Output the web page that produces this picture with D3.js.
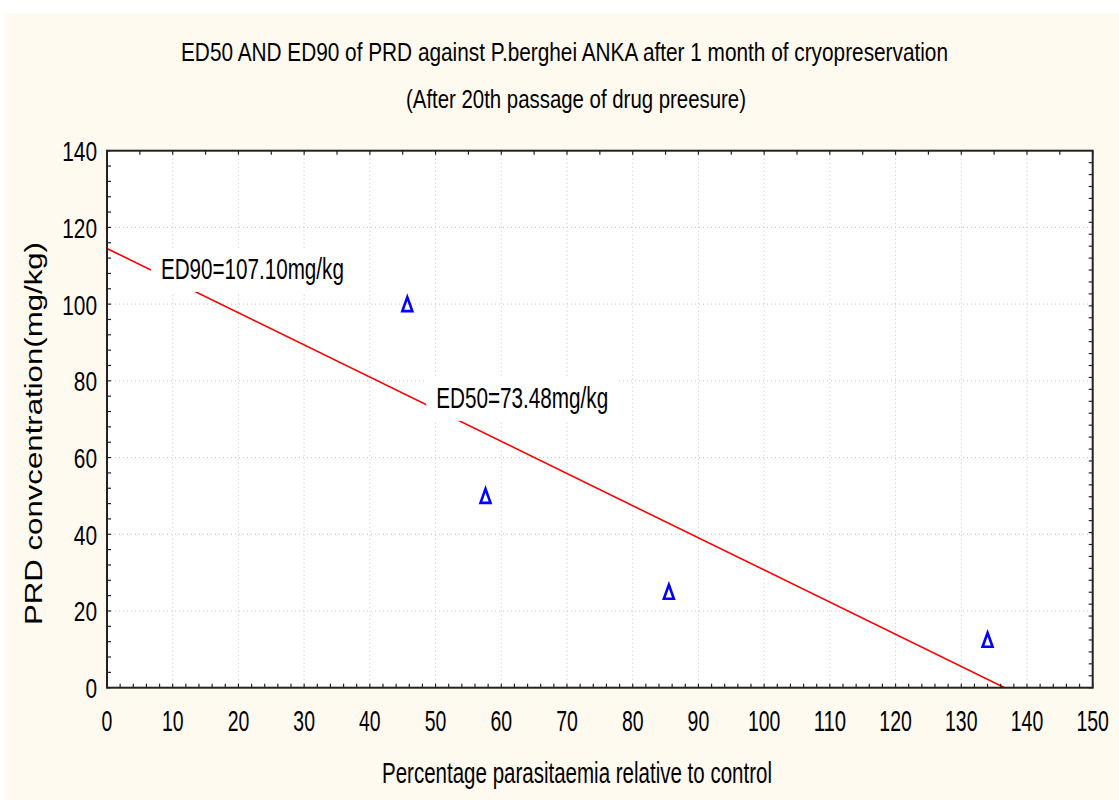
<!DOCTYPE html>
<html>
<head>
<meta charset="utf-8">
<script src="https://cdn.jsdelivr.net/npm/d3@7/dist/d3.min.js"></script>
<style>
  html, body { margin: 0; padding: 0; background: #ffffff; }
  svg { display: block; }
</style>
</head>
<body>
<svg id="chart" width="1119" height="800"></svg>
<script>
// ---------- data ----------
const titleLines = [
  "ED50 AND ED90 of PRD against P.berghei ANKA after 1 month of cryopreservation",
  "(After 20th passage of drug preesure)"
];
const xLabel = "Percentage parasitaemia relative to control";
const yLabel = "PRD convcentration(mg/kg)";
const xTicks = [0, 10, 20, 30, 40, 50, 60, 70, 80, 90, 100, 110, 120, 130, 140, 150];
const yTicks = [0, 20, 40, 60, 80, 100, 120, 140];
const pointX = [45.7, 57.6, 85.5, 134.0];   // % parasitaemia
const pointY = [100, 50, 25, 12.5];         // PRD mg/kg
const fitX = [0, 136.6];                    // regression line ends
const fitY = [114.5, 0];
const annotations = [
  { text: "ED90=107.10mg/kg", x: 8.2, y: 107.1 },
  { text: "ED50=73.48mg/kg", x: 50.1, y: 73.48 }
];

// ---------- layout ----------
const svg = d3.select("#chart");
const W = 1119, H = 800;
const plot = { left: 107, right: 1092.7, top: 150.7, bottom: 687.7 };
const FONT_N = "'Liberation Sans Narrow', 'Liberation Sans', Arial, sans-serif";
const FONT = "'Liberation Sans', Arial, sans-serif";

const x = d3.scaleLinear().domain([0, 150]).range([plot.left, plot.right]);
const y = d3.scaleLinear().domain([0, 140]).range([plot.bottom, plot.top]);

// page background
svg.append("rect").attr("x", 0).attr("y", 0).attr("width", W).attr("height", H).attr("fill", "#ffffff");
svg.append("rect").attr("x", 5).attr("y", 13).attr("width", W - 5).attr("height", H - 13).attr("fill", "#fffaf0");

// titles
const tl = [
  { t: titleLines[0], cx: 564.5, by: 61, len: 767, fs: 25 },
  { t: titleLines[1], cx: 576, by: 107.5, len: 340, fs: 25 }
];
tl.forEach(d => {
  svg.append("text").attr("x", d.cx).attr("y", d.by)
    .attr("text-anchor", "middle").attr("font-family", FONT_N).attr("font-size", d.fs)
    .attr("textLength", d.len).attr("lengthAdjust", "spacingAndGlyphs")
    .attr("fill", "#000").text(d.t);
});

// plot background
svg.append("rect").attr("x", plot.left).attr("y", plot.top)
  .attr("width", plot.right - plot.left).attr("height", plot.bottom - plot.top).attr("fill", "#ffffff");

// grid
const grid = svg.append("g").attr("stroke", "#c4c4c4").attr("stroke-width", 1).attr("stroke-dasharray", "1,3");
xTicks.filter(v => v > 0 && v < 150).forEach(v => {
  grid.append("line").attr("x1", x(v)).attr("x2", x(v)).attr("y1", plot.top).attr("y2", plot.bottom);
});
yTicks.filter(v => v > 0 && v < 140).forEach(v => {
  grid.append("line").attr("x1", plot.left).attr("x2", plot.right).attr("y1", y(v)).attr("y2", y(v));
});

// regression line (clipped)
svg.append("clipPath").attr("id", "clip").append("rect")
  .attr("x", plot.left).attr("y", plot.top).attr("width", plot.right - plot.left).attr("height", plot.bottom - plot.top);
const line = d3.line().x(d => x(d[0])).y(d => y(d[1]));
svg.append("path").attr("clip-path", "url(#clip)")
  .attr("d", line(fitX.map((v, i) => [v, fitY[i]])))
  .attr("fill", "none").attr("stroke", "#ff0000").attr("stroke-width", 1.6);

// annotations with white boxes
const annW = { "ED90=107.10mg/kg": 183, "ED50=73.48mg/kg": 172 };
annotations.forEach(a => {
  const tx = x(a.x);
  const by = y(a.y) + 2;
  const len = annW[a.text];
  svg.append("rect").attr("x", tx - 10).attr("y", by - 30).attr("width", len + 20).attr("height", 43)
    .attr("fill", "#ffffff");
  svg.append("text").attr("x", tx).attr("y", by)
    .attr("font-family", FONT_N).attr("font-size", 29)
    .attr("textLength", len).attr("lengthAdjust", "spacingAndGlyphs")
    .attr("fill", "#000").text(a.text);
});

// points: open triangles
const tri = "M0,-7 L5,7 L-5,7 Z";
pointX.forEach((px, i) => {
  svg.append("path").attr("d", tri)
    .attr("transform", `translate(${x(px)},${y(pointY[i])})`)
    .attr("fill", "none").attr("stroke", "#0000ff").attr("stroke-width", 2.6).attr("stroke-linejoin", "miter");
});

// frame ticks
const tk = svg.append("g").attr("stroke", "#222").attr("stroke-width", 1.2);
d3.range(0, 150.001, 2).forEach(v => {
  tk.append("line").attr("x1", x(v)).attr("x2", x(v)).attr("y1", plot.bottom).attr("y2", plot.bottom - 4);
});
d3.range(0, 150.001, 5).forEach(v => {
  tk.append("line").attr("x1", x(v)).attr("x2", x(v)).attr("y1", plot.top).attr("y2", plot.top + 4);
});
d3.range(0, 140.001, 4).forEach(v => {
  tk.append("line").attr("x1", plot.left).attr("x2", plot.left + 4).attr("y1", y(v)).attr("y2", y(v));
});
d3.range(0, 45).forEach(k => {
  const v = k * 140 / 45;
  tk.append("line").attr("x1", plot.right).attr("x2", plot.right - 4).attr("y1", y(v)).attr("y2", y(v));
});

// frame
svg.append("rect").attr("x", plot.left).attr("y", plot.top)
  .attr("width", plot.right - plot.left).attr("height", plot.bottom - plot.top)
  .attr("fill", "none").attr("stroke", "#222").attr("stroke-width", 2);

// tick labels
xTicks.forEach(v => {
  const s = String(v);
  svg.append("text").attr("x", x(v)).attr("y", 730.5)
    .attr("text-anchor", "middle").attr("font-family", FONT_N).attr("font-size", 30)
    .attr("textLength", s.length * 10.8).attr("lengthAdjust", "spacingAndGlyphs")
    .attr("fill", "#000").text(s);
});
yTicks.forEach(v => {
  const s = String(v);
  svg.append("text").attr("x", 97).attr("y", y(v) + 10.5)
    .attr("text-anchor", "end").attr("font-family", FONT_N).attr("font-size", 28)
    .attr("textLength", s.length * 11.6).attr("lengthAdjust", "spacingAndGlyphs")
    .attr("fill", "#000").text(s);
});

// axis labels
svg.append("text").attr("x", 382).attr("y", 783.3)
  .attr("font-family", FONT_N).attr("font-size", 29)
  .attr("textLength", 390).attr("lengthAdjust", "spacingAndGlyphs")
  .attr("fill", "#000").text(xLabel);
svg.append("text").attr("transform", "translate(41.5,433.5) rotate(-90)")
  .attr("text-anchor", "middle").attr("font-family", FONT).attr("font-size", 23)
  .attr("textLength", 383).attr("lengthAdjust", "spacingAndGlyphs")
  .attr("fill", "#000").text(yLabel);
</script>
</body>
</html>
